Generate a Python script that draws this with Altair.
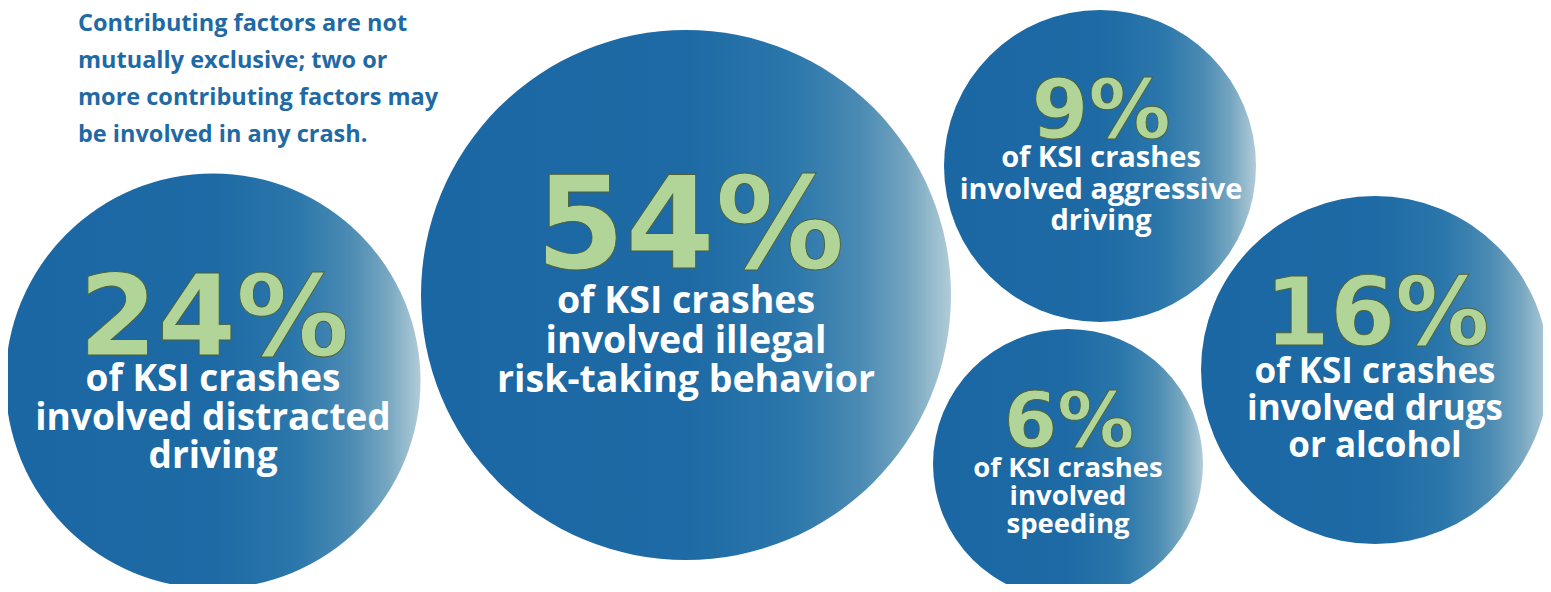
import altair as alt
import pandas as pd

# ---- data ----
percent_values = [24, 54, 9, 6, 16]
factor_lines = [
    ["of KSI crashes", "involved distracted", "driving"],
    ["of KSI crashes", "involved illegal", "risk-taking behavior"],
    ["of KSI crashes", "involved aggressive", "driving"],
    ["of KSI crashes", "involved", "speeding"],
    ["of KSI crashes", "involved drugs", "or alcohol"],
]
note_lines = [
    "Contributing factors are not",
    "mutually exclusive; two or",
    "more contributing factors may",
    "be involved in any crash.",
]

# ---- layout (pixel coordinates of the infographic) ----
circle_cx = [213, 686, 1100, 1068, 1375]
circle_cy = [381, 295, 166, 464, 370]
circle_d = [415, 530, 312, 270, 348]
num_x = [214, 690, 1101, 1069, 1377]
num_base = [355, 268, 138, 447, 345]
num_size = [113, 129, 82, 77, 94]
sub_x = [213, 686, 1101, 1068, 1375]
sub_base = [391, 313, 167, 477, 383]
sub_size = [37, 37.5, 29, 27.5, 35]
sub_lh = [38.5, 39.5, 31.5, 28, 37]
note_x = 78
note_base = [31, 68, 105, 142]

W, H = 1535, 576
xs = alt.Scale(domain=[8, 8 + W], range=[0, W])
ys = alt.Scale(domain=[8 + H, 8], range=[H, 0])

circles = pd.DataFrame({
    "cx": circle_cx, "cy": circle_cy,
    "area": [d * d for d in circle_d],
})

nums = pd.DataFrame({
    "x": num_x, "y": num_base,
    "label": [f"{v}%" for v in percent_values],
    "fs": num_size,
})

sub_rows = []
for i, lines in enumerate(factor_lines):
    for j, t in enumerate(lines):
        sub_rows.append({"x": sub_x[i], "y": sub_base[i] + j * sub_lh[i],
                         "label": t, "fs": sub_size[i]})
subs = pd.DataFrame(sub_rows)

notes = pd.DataFrame({"x": [note_x] * len(note_lines), "y": note_base, "label": note_lines})

grad = alt.LinearGradient(
    gradient="linear",
    stops=[
        alt.GradientStop(color="#1b67a4", offset=0),
        alt.GradientStop(color="#1d6aa5", offset=0.5),
        alt.GradientStop(color="#2b77ab", offset=0.7),
        alt.GradientStop(color="#4b8bb3", offset=0.83),
        alt.GradientStop(color="#76a6c0", offset=0.92),
        alt.GradientStop(color="#b0ccd7", offset=1),
    ],
    x1=0, x2=1, y1=0, y2=0,
)

circle_layer = alt.Chart(circles).mark_point(
    shape="circle", filled=True, fill=grad, opacity=1, strokeWidth=0
).encode(
    x=alt.X("cx:Q", scale=xs, axis=None),
    y=alt.Y("cy:Q", scale=ys, axis=None),
    size=alt.Size("area:Q", scale=None, legend=None),
)

num_layer = alt.Chart(nums).mark_text(
    font="DejaVu Sans", fontWeight="bold", color="#b1d598",
    stroke="#4f6035", strokeWidth=0.9, align="center", baseline="alphabetic"
).encode(
    x=alt.X("x:Q", scale=xs, axis=None),
    y=alt.Y("y:Q", scale=ys, axis=None),
    text="label:N",
    size=alt.Size("fs:Q", scale=None, legend=None),
)

sub_layer = alt.Chart(subs).mark_text(
    font="Open Sans", fontWeight="bold", color="#ffffff",
    align="center", baseline="alphabetic"
).encode(
    x=alt.X("x:Q", scale=xs, axis=None),
    y=alt.Y("y:Q", scale=ys, axis=None),
    text="label:N",
    size=alt.Size("fs:Q", scale=None, legend=None),
)

note_layer = alt.Chart(notes).mark_text(
    font="Open Sans", fontWeight="bold", color="#1f69a4", fontSize=23.5,
    align="left", baseline="alphabetic"
).encode(
    x=alt.X("x:Q", scale=xs, axis=None),
    y=alt.Y("y:Q", scale=ys, axis=None),
    text="label:N",
)

chart = alt.layer(circle_layer, num_layer, sub_layer, note_layer).properties(
    width=W, height=H, padding=0, autosize=alt.AutoSizeParams(type="none"),
    background="#ffffff",
).configure_view(stroke=None)

chart.save("out.html", embed_options={"renderer": "svg", "actions": False})
